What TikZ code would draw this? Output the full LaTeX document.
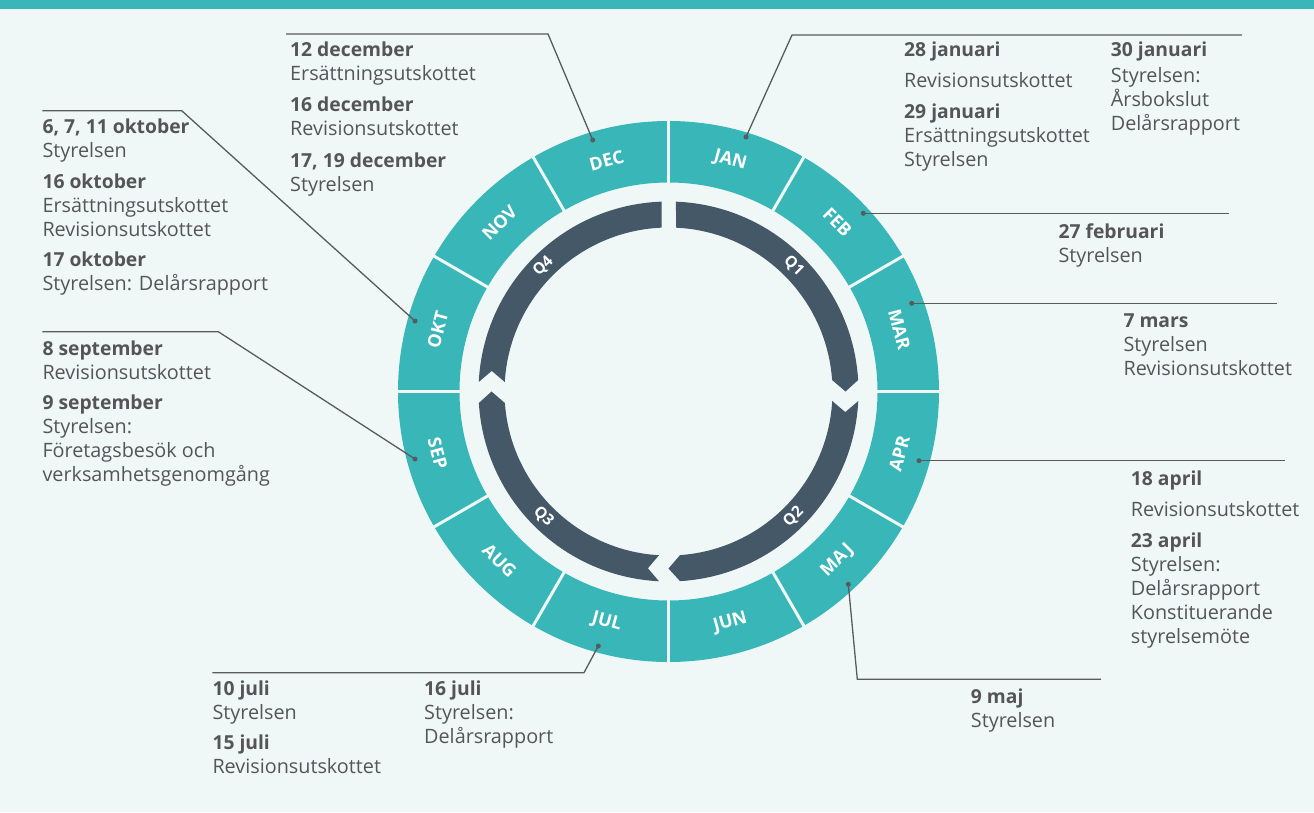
\documentclass[tikz,border=0pt]{standalone}
\usepackage{fontspec}
\setmainfont{Open Sans}
\definecolor{bgc}{RGB}{240,248,247}
\definecolor{ringc}{RGB}{56,182,184}
\definecolor{darkc}{RGB}{69,88,104}
\definecolor{txtc}{RGB}{85,85,88}
\definecolor{linec}{RGB}{90,90,92}
\newcommand\dt[1]{\hbox{\fontsize{19.3}{24}\selectfont\bfseries #1}}
\newcommand\txl[1]{\hbox{#1}}
\newcommand\gap[1]{\vskip #1pt}
\tikzset{
  mlab/.style={text=white,font=\fontsize{18}{20}\selectfont\bfseries,inner sep=0pt},
  qlab/.style={text=white,font=\fontsize{15.5}{18}\selectfont\bfseries,inner sep=0pt},
  blk/.style={anchor=base west,inner sep=0pt,text=txtc,font=\fontsize{19.8}{24}\selectfont},
  lead/.style={draw=linec,line width=1.3pt},
  dotn/.style={circle,fill=linec,inner sep=0pt,minimum size=5pt}
}
\begin{document}
\begin{tikzpicture}[x=1pt,y=1pt]
\fill[bgc] (0,0) rectangle (1314,-812);
\useasboundingbox (0,0) rectangle (1314,-812);
\fill[ringc] (0,0) rectangle (1314,-9);
\begin{scope}[shift={(668.5,-391.5)}]
  \fill[ringc,even odd rule] (0,0) circle (270.5) (0,0) circle (209);
  \foreach \a in {0,30,...,330} \draw[bgc,line width=3pt] (\a:205) -- (\a:275);
  % quarter arrows
  \fill[darkc] (87.74:190) arc[start angle=87.74,end angle=3.47,radius=190] -- (0:177)
     -- (4.02:164) arc[start angle=4.02,end angle=87.38,radius=164] -- cycle;
  \fill[darkc] (-2.87:190) arc[start angle=-2.87,end angle=-86.53,radius=190] -- (-90:177)
     -- (-85.98:164) arc[start angle=-85.98,end angle=-3.32,radius=164] -- (-6.65:178) -- cycle;
  \fill[darkc] (-92.87:190) arc[start angle=-92.87,end angle=-176.53,radius=190] -- (-180:177)
     -- (-175.98:164) arc[start angle=-175.98,end angle=-93.32,radius=164] -- (-96.65:178) -- cycle;
  \fill[darkc] (177.13:190) arc[start angle=177.13,end angle=92.05,radius=190]
     -- (92.38:164) arc[start angle=92.38,end angle=176.68,radius=164] -- (173.35:178) -- cycle;
  % month labels
  \node[mlab,rotate=-15] (mJAN) at (75:239) {JAN};
  \node[mlab,rotate=-45] (mFEB) at (45:239) {FEB};
  \node[mlab,rotate=-75] (mMAR) at (15:239) {MAR};
  \node[mlab,rotate=75] (mAPR) at (-15:239) {APR};
  \node[mlab,rotate=45] (mMAJ) at (-45:239) {MAJ};
  \node[mlab,rotate=15] (mJUN) at (-75:239) {JUN};
  \node[mlab,rotate=-15] (mJUL) at (-105:239) {JUL};
  \node[mlab,rotate=-45] (mAUG) at (-135:239) {AUG};
  \node[mlab,rotate=-75] (mSEP) at (-165:239) {SEP};
  \node[mlab,rotate=75] (mOKT) at (165:239) {OKT};
  \node[mlab,rotate=45] (mNOV) at (135:239) {NOV};
  \node[mlab,rotate=15] (mDEC) at (105:239) {DEC};
  % quarter labels
  \node[qlab,rotate=-45] (q1) at (45:177) {Q1};
  \node[qlab,rotate=45] (q2) at (-45:177) {Q2};
  \node[qlab,rotate=-45] (q3) at (-135:177) {Q3};
  \node[qlab,rotate=45] (q4) at (135:177) {Q4};
\end{scope}
% dots
\node[dotn] (dDEC) at (592.7,-140) {};
\node[dotn] (dJAN) at (746,-137) {};
\node[dotn] (dFEB) at (863.3,-213.3) {};
\node[dotn] (dMAR) at (911.7,-303.3) {};
\node[dotn] (dAPR) at (919,-460.7) {};
\node[dotn] (dMAJ) at (848.3,-584.3) {};
\node[dotn] (dJUL) at (598.3,-646) {};
\node[dotn] (dSEP) at (415,-459) {};
\node[dotn] (dOKT) at (415,-321) {};
% leader bends and ends
\coordinate (bDEC) at (548,-34);   \coordinate (eDEC) at (286,-34);
\coordinate (bJAN) at (792,-35);   \coordinate (eJAN) at (1242,-35);
\coordinate (eFEB) at (1229,-213.3);
\coordinate (eMAR) at (1277,-303.3);
\coordinate (eAPR) at (1285,-460.7);
\coordinate (bMAJ) at (857.3,-679.3); \coordinate (eMAJ) at (1101,-679.3);
\coordinate (bJUL) at (584,-672.7); \coordinate (eJUL) at (212.3,-672.7);
\coordinate (bSEP) at (218.3,-331.7); \coordinate (eSEP) at (42.3,-331.7);
\coordinate (bOKT) at (181.7,-110.7); \coordinate (eOKT) at (42.3,-110.7);
\draw[lead] (dDEC.center) -- (bDEC) -- (eDEC);
\draw[lead] (dJAN.center) -- (bJAN) -- (eJAN);
\draw[lead] (dFEB.center) -- (eFEB);
\draw[lead] (dMAR.center) -- (eMAR);
\draw[lead] (dAPR.center) -- (eAPR);
\draw[lead] (dMAJ.center) -- (bMAJ) -- (eMAJ);
\draw[lead] (dJUL.center) -- (bJUL) -- (eJUL);
\draw[lead] (dSEP.center) -- (bSEP) -- (eSEP);
\draw[lead] (dOKT.center) -- (bOKT) -- (eOKT);
% text blocks
\node[blk] (tDEC) at (290,-56.7) {\vtop{\dt{12 december}\txl{Ersättningsutskottet}\gap{7}\dt{16 december}\txl{Revisionsutskottet}\gap{7.5}\dt{17, 19 december}\txl{Styrelsen}}};
\node[blk] (tJAN1) at (904,-56.7) {\vtop{\dt{28 januari}\gap{7}\txl{Revisionsutskottet}\gap{7}\dt{29 januari}\txl{Ersättningsutskottet}\txl{Styrelsen}}};
\node[blk] (tJAN2) at (1110.7,-56.7) {\vtop{\dt{30 januari}\gap{2}\txl{Styrelsen:}\txl{Årsbokslut}\txl{Delårsrapport}}};
\node[blk] (tFEB) at (1058.3,-238.3) {\vtop{\dt{27 februari}\txl{Styrelsen}}};
\node[blk] (tMAR) at (1123.3,-327.3) {\vtop{\dt{7 mars}\txl{Styrelsen}\txl{Revisionsutskottet}}};
\node[blk] (tAPR) at (1130.7,-485) {\vtop{\dt{18 april}\gap{7}\txl{Revisionsutskottet}\gap{7}\dt{23 april}\txl{Styrelsen:}\txl{Delårsrapport}\txl{Konstituerande}\txl{styrelsemöte}}};
\node[blk] (tMAJ) at (970.7,-703.3) {\vtop{\dt{9 maj}\txl{Styrelsen}}};
\node[blk] (tJUL1) at (212.3,-695) {\vtop{\dt{10 juli}\txl{Styrelsen}\gap{6}\dt{15 juli}\txl{Revisionsutskottet}}};
\node[blk] (tJUL2) at (424,-695) {\vtop{\dt{16 juli}\txl{Styrelsen:}\txl{Delårsrapport}}};
\node[blk] (tSEP) at (42.3,-355) {\vtop{\dt{8 september}\txl{Revisionsutskottet}\gap{6.5}\dt{9 september}\txl{Styrelsen:}\txl{Företagsbesök och}\txl{verksamhetsgenomgång}}};
\node[blk] (tOKT) at (42.3,-133.3) {\vtop{\dt{6, 7, 11 oktober}\txl{Styrelsen}\gap{7}\dt{16 oktober}\txl{Ersättningsutskottet}\txl{Revisionsutskottet}\gap{6.5}\dt{17 oktober}\txl{Styrelsen: Delårsrapport}}};
\end{tikzpicture}
\end{document}
